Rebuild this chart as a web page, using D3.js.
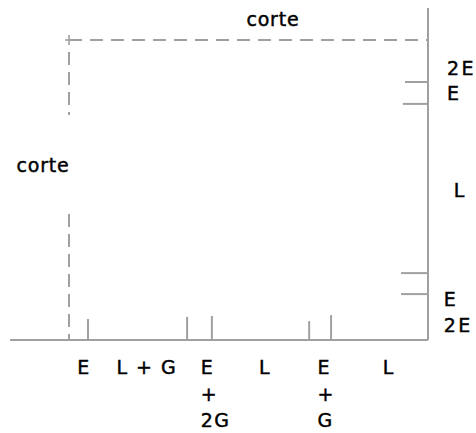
<!DOCTYPE html>
<html>
<head>
<meta charset="utf-8">
<script src="https://cdn.jsdelivr.net/npm/d3@7"></script>
<style>
  body { margin: 0; background: #fff; }
  svg text { font-family: "DejaVu Sans", sans-serif; font-size: 19px; fill: #000; stroke: #000; stroke-width: 0.45px; }
</style>
</head>
<body>
<svg id="chart" width="476" height="433"></svg>
<script>
// --- data (diagram units: x 0..100 across, y 0..100 up) ---
const bottomTicks = [5.3, 32.9, 39.8, 66.9, 73.0];
const bottomTickLen = [7, 7.7, 8, 6.3, 8.3];
const rightTicks = [86, 78.7, 22.3, 15.3];
const rightTickLen = [6.4, 7, 7.5, 7.5];

const bottomLabels = [
  { x: 4.2, lines: ["E"], anchor: "middle" },
  { x: 21.7, lines: ["L + G"], anchor: "middle" },
  { x: 36.7, lines: ["E", "+", "2G"], anchor: "start" },
  { x: 54.6, lines: ["L"], anchor: "middle" },
  { x: 69.2, lines: ["E", "+", "G"], anchor: "start" },
  { x: 89.1, lines: ["L"], anchor: "middle" }
];
const rightLabels = [
  { x: 105.3, y: 88.3, text: "2E" },
  { x: 105.3, y: 80, text: "E" },
  { x: 107.2, y: 47.7, text: "L" },
  { x: 104.4, y: 11.3, text: "E" },
  { x: 104.4, y: 2.7, text: "2E" }
];
const cutLabels = [
  { x: 56.8, y: 104.7, text: "corte", anchor: "middle" },
  { x: -14.6, y: 56, text: "corte", anchor: "start" }
];

// --- scales ---
const x = d3.scaleLinear().domain([0, 100]).range([69, 428]);
const y = d3.scaleLinear().domain([0, 100]).range([340, 40]);

const svg = d3.select("#chart");
const lineColor = "#a0a0a0";

function seg(x1, y1, x2, y2, dash) {
  svg.append("line")
    .attr("x1", x(x1)).attr("y1", y(y1))
    .attr("x2", x(x2)).attr("y2", y(y2))
    .attr("stroke", lineColor)
    .attr("stroke-width", 2)
    .attr("stroke-dasharray", dash || null);
}

// axes
seg(-16.4, 0, 100, 0);
seg(100, 0, 100, 110.7);

// cut lines (dashed)
seg(0, 100, 100, 100, "13 8");
seg(0, 96, 0, 75, "13 7");
seg(0, 42, 0, 0, "13 7");
// little cross at the corner
svg.append("path")
  .attr("d", `M${x(0) - 4},${y(100)}h8M${x(0)},${y(100) - 5}v10`)
  .attr("stroke", lineColor).attr("stroke-width", 1.6);

// ticks on the bottom axis (pointing up)
svg.selectAll("line.btick")
  .data(bottomTicks)
  .join("line")
  .attr("class", "btick")
  .attr("x1", d => x(d)).attr("x2", d => x(d))
  .attr("y1", y(0)).attr("y2", (d, i) => y(bottomTickLen[i]))
  .attr("stroke", lineColor).attr("stroke-width", 2);

// ticks on the right axis (pointing left)
svg.selectAll("line.rtick")
  .data(rightTicks)
  .join("line")
  .attr("class", "rtick")
  .attr("y1", d => y(d)).attr("y2", d => y(d))
  .attr("x1", x(100)).attr("x2", (d, i) => x(100 - rightTickLen[i]))
  .attr("stroke", lineColor).attr("stroke-width", 2);

// bottom labels
const lineStep = 26.5;
bottomLabels.forEach(lab => {
  const t = svg.append("text")
    .attr("text-anchor", lab.anchor)
    .attr("letter-spacing", 1.5);
  lab.lines.forEach((s, i) => {
    t.append("tspan")
      .attr("x", x(lab.x))
      .attr("y", 374 + i * lineStep)
      .text(s);
  });
});

// right labels
svg.selectAll("text.rlab")
  .data(rightLabels)
  .join("text")
  .attr("class", "rlab")
  .attr("x", d => x(d.x))
  .attr("y", d => y(d.y))
  .attr("letter-spacing", 2.5)
  .text(d => d.text);

// "corte" labels
svg.selectAll("text.cut")
  .data(cutLabels)
  .join("text")
  .attr("class", "cut")
  .attr("x", d => x(d.x))
  .attr("y", d => y(d.y))
  .attr("text-anchor", d => d.anchor)
  .attr("letter-spacing", 0.8)
  .text(d => d.text);
</script>
</body>
</html>
